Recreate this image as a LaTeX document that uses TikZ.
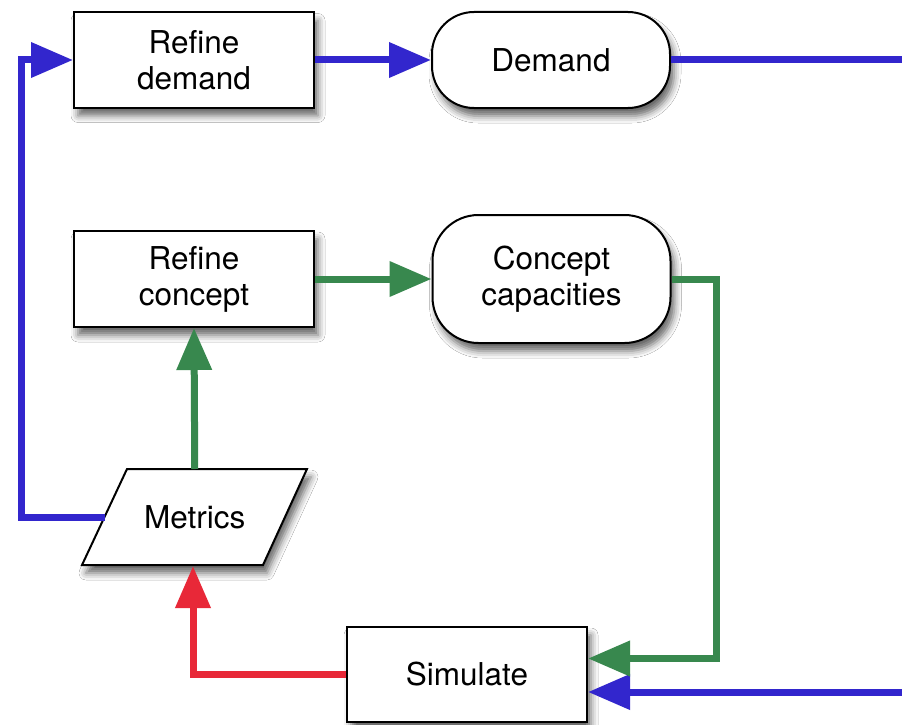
\documentclass[tikz,border=0pt]{standalone}
\usepackage{fontspec}
\setmainfont{TeX Gyre Heros}
\usetikzlibrary{shadows.blur,arrows.meta,calc}
\definecolor{fblue}{RGB}{50,38,205}
\definecolor{fgreen}{RGB}{56,136,78}
\definecolor{fred}{RGB}{232,40,56}
\tikzset{
  shadowed/.style={blur shadow={shadow xshift=4pt, shadow yshift=-8pt, shadow blur radius=7pt, shadow opacity=60}},
  base/.style={draw=black, line width=2pt, fill=white, align=center,
    font=\fontsize{31.5}{36}\selectfont, shadowed},
  procbox/.style={base, rectangle, minimum width=240pt, minimum height=95pt},
  termbox/.style={base, rectangle, rounded corners=42pt, minimum width=238pt},
  iolabel/.style={align=center, font=\fontsize{31.5}{36}\selectfont, inner sep=0pt},
  ioshape/.style={draw=black, line width=2pt, fill=white, line join=miter, shadowed},
  conn/.style={line width=7pt, -{Triangle[length=42pt,width=34pt]}},
  plain/.style={line width=7pt},
}
\begin{document}
\begin{tikzpicture}[x=1pt,y=-1pt]
\useasboundingbox[fill=white] (0,0) rectangle (902,725);
\node[procbox] (RD) at (194,60) {Refine\\demand};
\node[termbox, minimum height=96pt] (D) at (551,60) {Demand};
\node[procbox, minimum height=96pt] (RC) at (194,279) {Refine\\concept};
\node[termbox, minimum height=128pt, rounded corners=46pt] (CC) at (551.5,279) {Concept\\capacities};
% Metrics parallelogram
\draw[ioshape] (127,469) -- (307,469) -- (263,565) -- (82,565) -- cycle;
\node[iolabel] (M) at (194.75,517) {Metrics};
\coordinate (Mwest) at (104.5,517);
\coordinate (Mnorth) at (194.75,469);
\coordinate (Msouth) at (193,566);
\node[procbox] (S) at (467,674.5) {Simulate};

\coordinate (edgeTop) at (902,60);
\coordinate (edgeBot) at (902,692);
\coordinate (lcorner) at (21,0);
\coordinate (gcorner) at (716,0);
\coordinate (Sgreen) at ($(S.east)+(0,-16)$);
\coordinate (Sblue) at ($(S.east)+(0,17.5)$);

% blue
\draw[conn, fblue] (RD.east) -- (D.west);
\draw[plain, fblue] (D.east) -- (edgeTop);
\draw[conn, fblue] (edgeBot) -- (Sblue);
\draw[conn, fblue, line join=miter] (Mwest) -| (lcorner |- RD.west) -- (RD.west);
% green
\draw[conn, fgreen] (RC.east) -- (CC.west);
\draw[conn, fgreen] (Mnorth) -- (RC.south);
\draw[conn, fgreen, line join=miter] (CC.east) -| (gcorner |- Sgreen) -- (Sgreen);
% red
\draw[conn, fred, line join=miter] (S.west) -| (Msouth);
\end{tikzpicture}
\end{document}
